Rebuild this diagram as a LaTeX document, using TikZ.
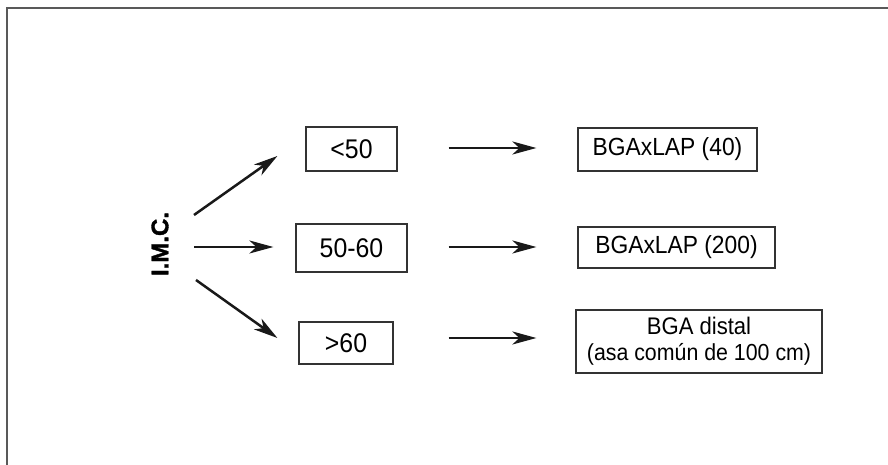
\documentclass[tikz,border=0pt]{standalone}
\usepackage{fontspec}
\setmainfont[FakeStretch=0.92]{Liberation Sans}
\newfontfamily\heavyfont[FakeBold=1.5]{Liberation Sans Bold}
\usetikzlibrary{arrows.meta}

\begin{document}
\begin{tikzpicture}[x=0.5pt, y=0.5pt,
  box/.style={draw=black!80, line width=.6pt, inner sep=0pt},
  bmibox/.style={box, font=\fontsize{13.5}{16}\selectfont},
  surgery/.style={box, font=\fontsize{12.4}{14}\selectfont, align=center},
  arr/.style={arrows={-Stealth[length=12pt, width=6.5pt, inset=3.5pt]}, line width=1.25pt, black!90}]
\useasboundingbox (0,0) rectangle (888,465);
\draw[black!65, line width=1pt] (7,0) -- (7,456.5) -- (888,456.5);

\node[rotate=90, font=\heavyfont\fontsize{12}{14}\selectfont] at (160,221) (imc) {I.M.C.};

\node[bmibox, minimum width=45.5pt, minimum height=22pt] at (351.5,316) (lt50) {<50};
\node[bmibox, minimum width=55.5pt, minimum height=24pt] at (351.5,217) (mid) {50-60};
\node[bmibox, minimum width=47pt, minimum height=21pt] at (346,122) (gt60) {>60};

\node[surgery, minimum width=89.5pt, minimum height=21.5pt] at (667.5,315.5) (bga40) {BGAxLAP (40)};
\node[surgery, minimum width=98.5pt, minimum height=20.5pt] at (676.5,217.5) (bga200) {BGAxLAP (200)};
\node[surgery, minimum width=123pt, minimum height=31.5pt] at (699,123.5) (distal)
  {\fontsize{12}{14}\selectfont BGA distal\\[-1pt] {\fontsize{11.6}{13}\selectfont (asa común de 100 cm)}};

\draw[arr] ([shift={(34,29)}]imc.center) -- ([shift={(-28,-7)}]lt50.west);
\draw[arr] ([shift={(34,-3)}]imc.center) -- ([shift={(-22,1)}]mid.west);
\draw[arr] ([shift={(36,-36)}]imc.center) -- ([shift={(-21,5)}]gt60.west);

\draw[arr] ([shift={(51,1)}]lt50.east) -- ([shift={(-41,1.5)}]bga40.west);
\draw[arr] ([shift={(41,1)}]mid.east) -- ([shift={(-41,0.5)}]bga200.west);
\draw[arr] ([shift={(55,5)}]gt60.east) -- ([shift={(-39,3.5)}]distal.west);
\end{tikzpicture}
\end{document}
